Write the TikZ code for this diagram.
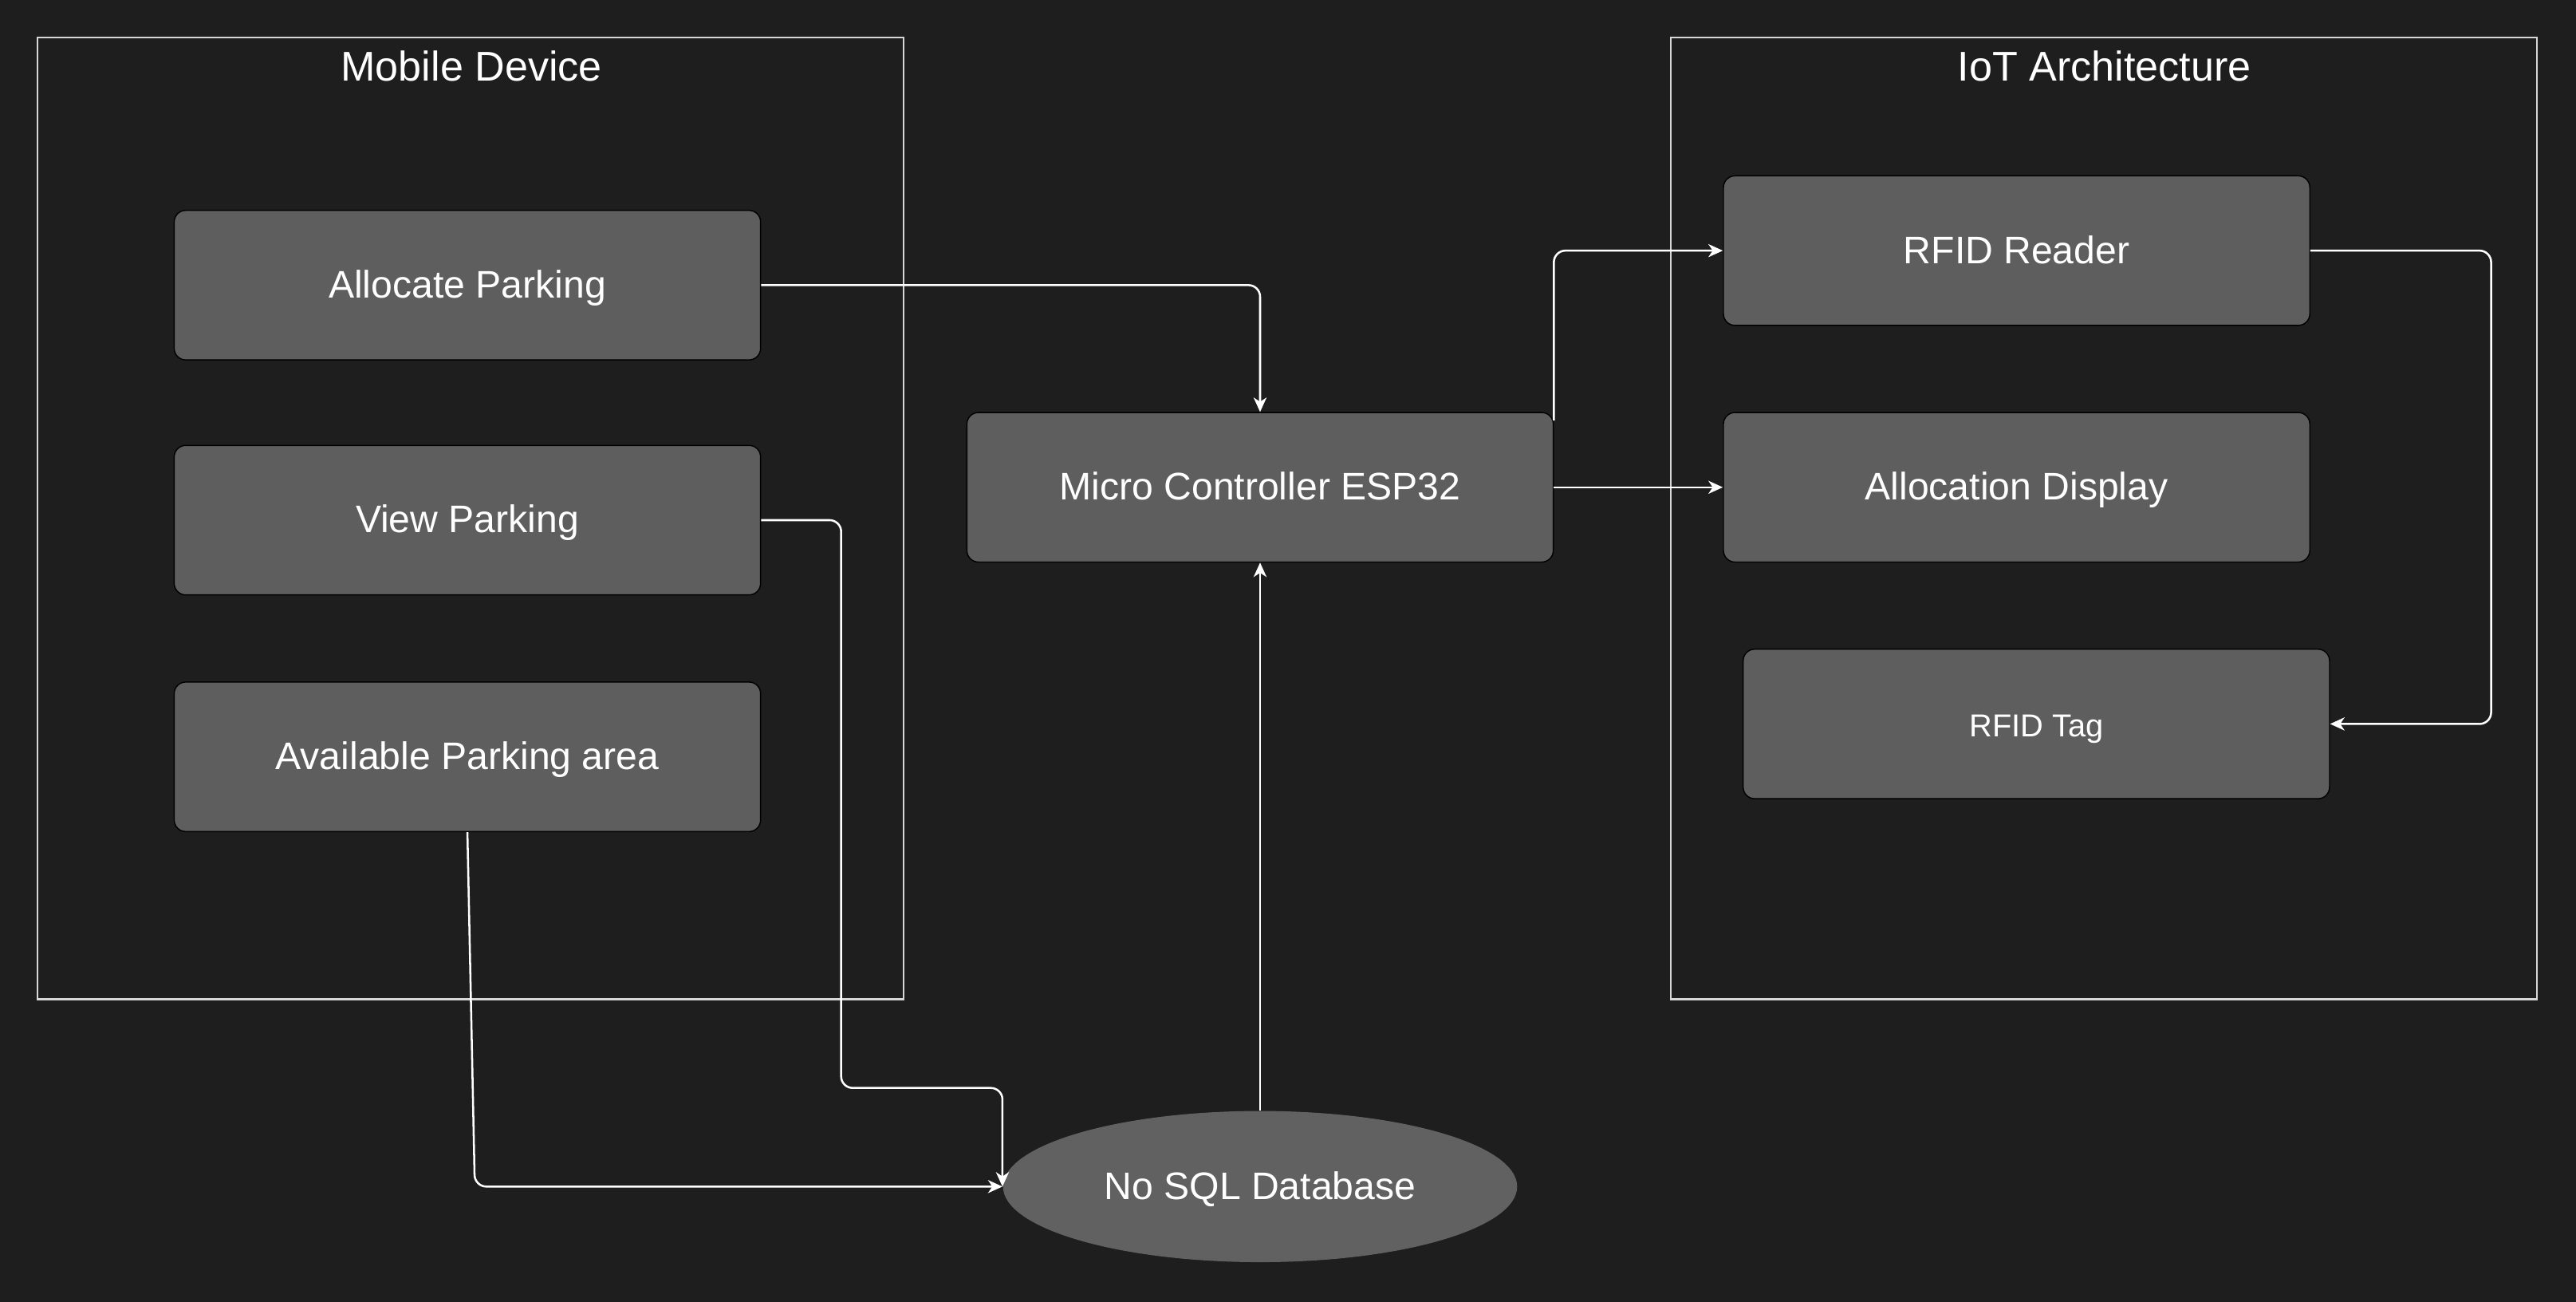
\documentclass[tikz,border=0pt]{standalone}
\usepackage{fontspec}
\setmainfont{Liberation Sans}
\usetikzlibrary{arrows.meta,positioning,shapes.geometric}
\definecolor{iotbg}{RGB}{30,30,30}
\definecolor{iotbox}{RGB}{94,94,94}
\definecolor{iotdb}{RGB}{97,97,97}
\definecolor{iotframe}{RGB}{215,215,215}
\tikzset{
    block/.style={
        draw=black,thin,rounded corners=4pt,fill=iotbox,
        minimum width=7.14cm,minimum height=1.82cm,
        text height=0.88em,text depth=0pt,
        align=center,text=white,font=\fontsize{13.3}{16}\selectfont
    },
    store/.style={
        ellipse,fill=iotdb,inner sep=0pt,
        minimum width=6.26cm,minimum height=1.84cm,
        text height=0.88em,text depth=0pt,
        text=white,font=\fontsize{13.3}{16}\selectfont
    },
    zone/.style={draw=iotframe,line width=0.6pt},
    title/.style={text=white,font=\fontsize{14.4}{17}\selectfont},
    flow/.style={
        -{Stealth[length=5pt,width=4.5pt,inset=1.5pt]},
        draw=white,line width=0.7pt,rounded corners=4pt
    }
}

\begin{document}
\begin{tikzpicture}[x=0.02cm,y=-0.02cm]

\fill[iotbg] (0,0) rectangle (1568,792);
\useasboundingbox (0,0) rectangle (1568,792);

% containers
\draw[zone] (23,23) rectangle (550,608);
\draw[zone] (1017,23) rectangle (1544,608);
\node[title] (mobtitle) at (287,40) {Mobile Device};
\node[title] (iottitle) at (1281,40) {IoT Architecture};

% mobile device
\node[block] (alloc) at (284.5,173.5) {Allocate Parking};
\node[block] (view) at (284.5,316.5) {View Parking};
\node[block] (avail) at (284.5,460.5) {Available Parking area};

% controller and database
\node[block] (esp) at (767,296.5) {Micro Controller ESP32};
\node[store] (db) at (767,722) {No SQL Database};

% iot side
\node[block] (reader) at (1227.5,152.5) {RFID Reader};
\node[block] (display) at (1227.5,296.5) {Allocation Display};
\node[block,font=\fontsize{11}{13}\selectfont] (tag) at (1239.5,440.5) {RFID Tag};

% connectors
\draw[flow] (alloc.east) -| (esp.north);
\draw[flow] (view.east) -| (512,662) -| (db.west);
\draw[flow] (avail.south) -- (289,722) -- (db.west);
\draw[flow] (db.north) -- (esp.south);
\draw[flow] ([yshift=-3pt]esp.north east) |- (reader.west);
\draw[flow] (esp.east) -- (display.west);
\draw[flow] (reader.east) -- ++(110,0) |- (tag.east);

\end{tikzpicture}
\end{document}
